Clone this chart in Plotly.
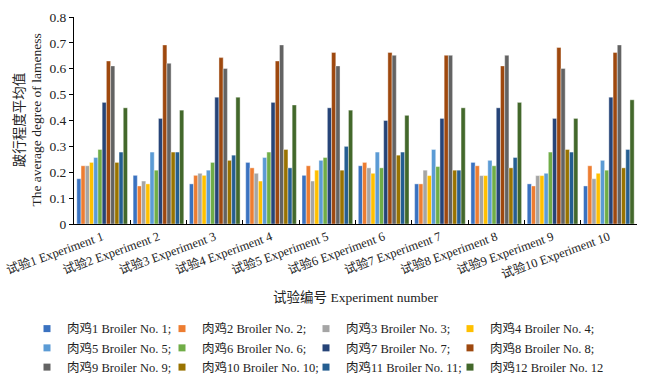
import plotly.graph_objects as go

experiments = [f"试验{i} Experiment {i}" for i in range(1, 11)]
broilers = [f"肉鸡{i} Broiler No. {i};" for i in range(1, 12)] + ["肉鸡12 Broiler No. 12"]

# values[broiler][experiment]
b1 = [0.175, 0.188, 0.155, 0.238, 0.188, 0.225, 0.155, 0.238, 0.155, 0.147]
b2 = [0.225, 0.147, 0.188, 0.217, 0.225, 0.238, 0.155, 0.225, 0.147, 0.225]
b3 = [0.225, 0.166, 0.196, 0.196, 0.166, 0.217, 0.208, 0.187, 0.187, 0.175]
b4 = [0.238, 0.155, 0.188, 0.166, 0.208, 0.196, 0.187, 0.187, 0.187, 0.196]
b5 = [0.257, 0.278, 0.208, 0.257, 0.246, 0.278, 0.288, 0.246, 0.196, 0.246]
b6 = [0.288, 0.208, 0.238, 0.278, 0.257, 0.217, 0.222, 0.225, 0.278, 0.208]
b7 = [0.470, 0.408, 0.490, 0.470, 0.449, 0.400, 0.408, 0.449, 0.408, 0.490]
b8 = [0.630, 0.692, 0.643, 0.630, 0.663, 0.663, 0.652, 0.611, 0.682, 0.663]
b9 = [0.611, 0.621, 0.601, 0.692, 0.611, 0.652, 0.652, 0.652, 0.601, 0.692]
b10 = [0.238, 0.278, 0.246, 0.288, 0.208, 0.266, 0.208, 0.217, 0.288, 0.217]
b11 = [0.278, 0.278, 0.266, 0.217, 0.300, 0.278, 0.208, 0.257, 0.278, 0.288]
b12 = [0.449, 0.440, 0.490, 0.460, 0.440, 0.420, 0.449, 0.470, 0.408, 0.480]
series = [b1, b2, b3, b4, b5, b6, b7, b8, b9, b10, b11, b12]

colors = ["#3a72c0", "#ED7D31", "#A5A5A5", "#FFC000", "#5B9BD5", "#70AD47",
          "#264478", "#9E480E", "#636363", "#997300", "#255E91", "#43682B"]

y_title = "跛行程度平均值<br>The average degree of lameness"
x_title = "试验编号 Experiment number"

serif = "Liberation Serif, Noto Sans CJK SC, serif"
legend_ids = ["legend", "legend2", "legend3", "legend4"]

fig = go.Figure()
for i, (name, vals, c) in enumerate(zip(broilers, series, colors)):
    fig.add_trace(go.Bar(x=experiments, y=vals, name=name, showlegend=False,
                         legendgroup=f"g{i}",
                         marker=dict(color=c, line=dict(color="white", width=0.4))))
# legend entries (small square swatches), 4 columns x 3 rows
for i, (name, c) in enumerate(zip(broilers, colors)):
    fig.add_trace(go.Scatter(x=[None], y=[None], mode="markers", name=name,
                             legendgroup=f"g{i}", legend=legend_ids[i % 4],
                             marker=dict(symbol="square", size=7, color=c)))

legend_x = [27, 162, 306, 450]
common = dict(orientation="v", xref="container", yref="container",
              y=0.1627, xanchor="left", yanchor="top",
              font=dict(size=12.5, family=serif, color="#222"),
              itemsizing="trace", tracegroupgap=0, bgcolor="rgba(0,0,0,0)")
legends = {lid: dict(x=lx / 646, **common) for lid, lx in zip(legend_ids, legend_x)}

fig.update_layout(
    width=646, height=375,
    barmode="group", bargap=0.1, bargroupgap=0,
    paper_bgcolor="white", plot_bgcolor="white",
    margin=dict(l=74, r=9, t=17, b=151, autoexpand=False),
    font=dict(family=serif, color="#222", size=13),
    showlegend=True,
    **legends,
    xaxis=dict(
        showline=True, linecolor="black", linewidth=1,
        ticks="inside", ticklen=4, tickcolor="black", tickson="boundaries",
        tickangle=-20, tickfont=dict(size=12.5, family=serif),
        title=dict(text=x_title, font=dict(size=13.5, family=serif), standoff=11),
    ),
    yaxis=dict(
        range=[0, 0.8], dtick=0.1, showgrid=False, zeroline=False,
        showline=True, linecolor="black", linewidth=1,
        ticks="outside", ticklen=4, tickcolor="black",
        tickfont=dict(size=13.5, family=serif),
    ),
    annotations=[dict(text=y_title, textangle=-90, showarrow=False,
                      xref="paper", yref="paper", x=-0.0817, y=0.5,
                      xanchor="center", yanchor="middle",
                      font=dict(size=13.5, family=serif, color="#222"))],
)

fig.write_html("out.html", config={"displayModeBar": False},
               post_script="document.body.style.margin='0';")
